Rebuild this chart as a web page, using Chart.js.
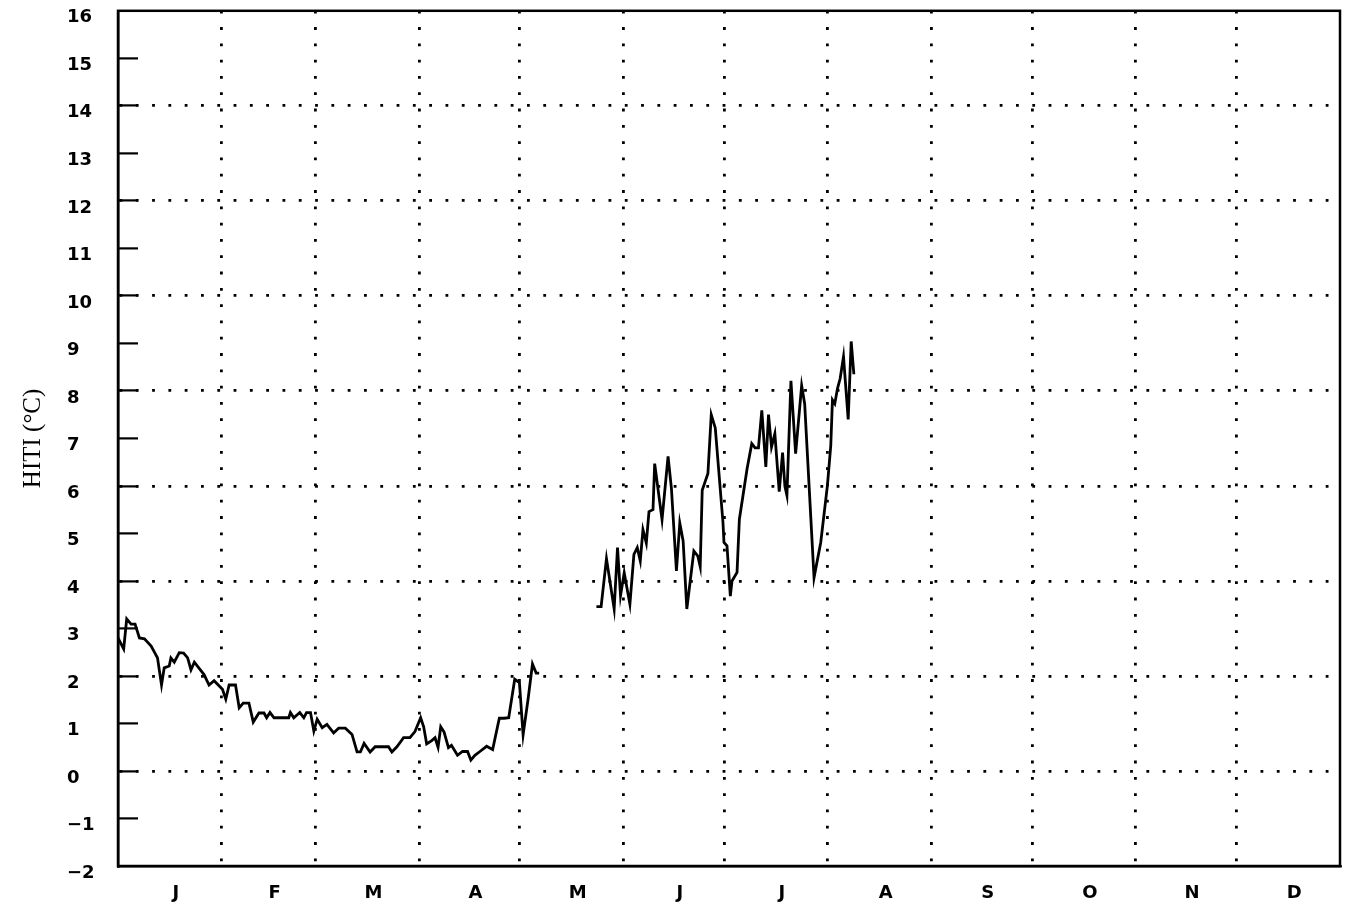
<!DOCTYPE html>
<html>
<head>
<meta charset="utf-8">
<script src="https://cdn.jsdelivr.net/npm/chart.js@4.4.1/dist/chart.umd.min.js"></script>
<style>
  html, body { margin: 0; padding: 0; background: #ffffff; }
  #wrap { width: 1352px; height: 915px; position: relative; }
</style>
</head>
<body>
<div id="wrap"><canvas id="c" width="1352" height="915"></canvas></div>
<script>
// ---- Data (day of year, HITI °C) ----
const days1 = [0, 1.7, 2.6, 3.9, 5.1, 6.4, 7.9, 9.9, 11.8, 13.0, 13.8, 15.3, 15.8, 16.8, 18.3, 19.6, 20.8, 21.8, 22.8, 25.7, 27.2, 28.7, 31.2, 32.2, 33.2, 35.1, 36.2, 37.4, 39.1, 40.4, 42.1, 43.6, 44.4, 45.4, 46.6, 51.0, 51.5, 52.5, 54.3, 55.5, 56.3, 57.5, 58.5, 59.5, 61.0, 62.4, 64.4, 65.9, 67.9, 69.9, 71.4, 72.4, 73.5, 75.3, 76.8, 80.8, 81.8, 83.3, 85.3, 87.2, 88.7, 90.4, 91.3, 92.2, 93.7, 94.7, 95.6, 96.4, 97.4, 98.7, 99.6, 101.4, 102.9, 104.4, 105.4, 106.6, 108.1, 110.1, 111.9, 113.9, 115.3, 116.7, 118.5, 119.9, 121.0, 122.5, 123.8, 124.9, 125.8];
const temps1 = [2.8, 2.57, 3.2, 3.09, 3.09, 2.8, 2.78, 2.63, 2.38, 1.81, 2.17, 2.21, 2.38, 2.29, 2.49, 2.48, 2.38, 2.13, 2.29, 2.03, 1.81, 1.90, 1.72, 1.51, 1.81, 1.81, 1.33, 1.43, 1.43, 1.03, 1.22, 1.22, 1.12, 1.23, 1.12, 1.12, 1.23, 1.12, 1.23, 1.12, 1.23, 1.23, 0.84, 1.09, 0.91, 0.98, 0.80, 0.90, 0.90, 0.77, 0.40, 0.40, 0.58, 0.40, 0.51, 0.51, 0.40, 0.51, 0.70, 0.70, 0.83, 1.12, 0.93, 0.57, 0.64, 0.70, 0.50, 0.93, 0.82, 0.49, 0.54, 0.33, 0.41, 0.41, 0.23, 0.33, 0.41, 0.52, 0.45, 1.11, 1.11, 1.12, 1.93, 1.86, 0.76, 1.52, 2.25, 2.06, 2.06];
const days2 = [142.9, 144.3, 145.9, 148.2, 149.2, 150.1, 151.2, 152.9, 154.1, 155.1, 156.0, 156.8, 157.8, 158.6, 159.8, 160.3, 162.5, 164.3, 165.3, 166.8, 167.8, 168.8, 169.9, 172.0, 173.2, 173.9, 174.5, 176.2, 177.2, 178.4, 180.7, 181.0, 181.9, 182.9, 183.4, 184.9, 185.6, 187.9, 189.3, 190.3, 191.3, 192.3, 193.5, 194.3, 195.2, 196.2, 197.5, 198.5, 199.2, 199.8, 201.0, 202.4, 204.2, 205.1, 207.9, 209.9, 211.9, 212.9, 213.4, 214.1, 214.9, 215.7, 216.7, 218.1, 219.0, 219.8];
const temps2 = [3.46, 3.46, 4.47, 3.41, 4.70, 3.69, 4.17, 3.51, 4.56, 4.70, 4.42, 5.08, 4.80, 5.46, 5.50, 6.47, 5.29, 6.62, 5.95, 4.21, 5.22, 4.84, 3.41, 4.63, 4.52, 4.30, 5.91, 6.26, 7.50, 7.22, 5.23, 4.81, 4.74, 3.68, 4.00, 4.18, 5.30, 6.36, 6.89, 6.80, 6.80, 7.59, 6.40, 7.50, 6.82, 7.10, 5.88, 6.70, 5.99, 5.80, 8.21, 6.68, 8.11, 7.73, 4.07, 4.81, 6.01, 6.85, 7.81, 7.73, 8.05, 8.26, 8.72, 7.40, 9.04, 8.35];

const monthLabels = ['J', 'F', 'M', 'A', 'M', 'J', 'J', 'A', 'S', 'O', 'N', 'D'];
const monthStarts = [0, 31, 59, 90, 120, 151, 181, 212, 243, 273, 304, 334, 365];
const yMin = -2, yMax = 16;
const yTitle = 'HITI (°C)';

// ---- Build ----
const toPts = (xs, ys) => xs.map((d, i) => ({ x: d, y: ys[i] }));
const monthMids = monthLabels.map((_, i) => (monthStarts[i] + monthStarts[i + 1]) / 2);
const tickFont = { family: 'DejaVu Sans', size: 18, weight: 'bold' };

const framePlugin = {
  id: 'frame',
  afterDraw(chart) {
    const { ctx, chartArea: a } = chart;
    ctx.save();
    ctx.strokeStyle = '#000';
    ctx.lineWidth = 2.5;
    ctx.strokeRect(a.left, a.top, a.right - a.left, a.bottom - a.top);
    ctx.restore();
  }
};

const lineStyle = { borderColor: '#000', borderWidth: 2.8, pointRadius: 0, fill: false, tension: 0 };

new Chart(document.getElementById('c'), {
  type: 'line',
  data: {
    datasets: [
      Object.assign({ label: 'HITI 1', data: toPts(days1, temps1) }, lineStyle),
      Object.assign({ label: 'HITI 2', data: toPts(days2, temps2) }, lineStyle)
    ]
  },
  options: {
    responsive: false,
    devicePixelRatio: 1,
    animation: false,
    layout: { padding: { left: 18, right: 12, top: 10, bottom: 0 } },
    plugins: { legend: { display: false }, tooltip: { enabled: false } },
    scales: {
      x: {
        type: 'linear', position: 'bottom', min: 0, max: 365, weight: 0,
        afterBuildTicks: s => { s.ticks = monthStarts.slice(1, 12).map(v => ({ value: v })); },
        ticks: { display: false },
        grid: { color: '#000', lineWidth: 2.8, drawTicks: false },
        border: { display: true, color: '#000', width: 2.5, dash: [2.8, 13.5] },
        afterFit: s => { s.height = 0; }
      },
      xLab: {
        type: 'linear', position: 'bottom', min: 0, max: 365, weight: 1,
        afterBuildTicks: s => { s.ticks = monthMids.map(v => ({ value: v })); },
        ticks: {
          autoSkip: false, maxRotation: 0, minRotation: 0, padding: 17, labelOffset: 6,
          color: '#000', font: tickFont,
          callback: (v, i) => monthLabels[i]
        },
        grid: { display: false, drawTicks: false },
        border: { display: false },
        afterFit: s => { s.height = 49; }
      },
      y: {
        type: 'linear', position: 'left', min: yMin, max: yMax, weight: 0,
        ticks: {
          stepSize: 1, crossAlign: 'far', labelOffset: 7, padding: 0,
          color: '#000', font: tickFont,
          callback: v => (v < 0 ? '\u2212' + Math.abs(v) : String(v))
        },
        grid: {
          color: c => (c.tick && c.tick.value % 2 === 0 && c.tick.value > yMin && c.tick.value < yMax) ? '#000' : 'rgba(0,0,0,0)',
          lineWidth: 2.8,
          tickColor: c => (c.tick && c.tick.value > yMin && c.tick.value < yMax) ? '#000' : 'rgba(0,0,0,0)',
          tickLength: -20,
          tickWidth: 2.2
        },
        border: { display: true, color: '#000', width: 2.5, dash: [2.8, 13.5] },
        afterFit: s => { s.width = 51; }
      },
      yT: {
        type: 'linear', position: 'left', weight: 1,
        ticks: { display: false },
        grid: { display: false, drawTicks: false },
        border: { display: false },
        title: { display: true, text: yTitle, color: '#000', font: { family: 'Liberation Serif', size: 25 }, padding: { top: 0, bottom: 0 } },
        afterFit: s => { s.width = 49; }
      }
    }
  },
  plugins: [framePlugin]
});
</script>
</body>
</html>
